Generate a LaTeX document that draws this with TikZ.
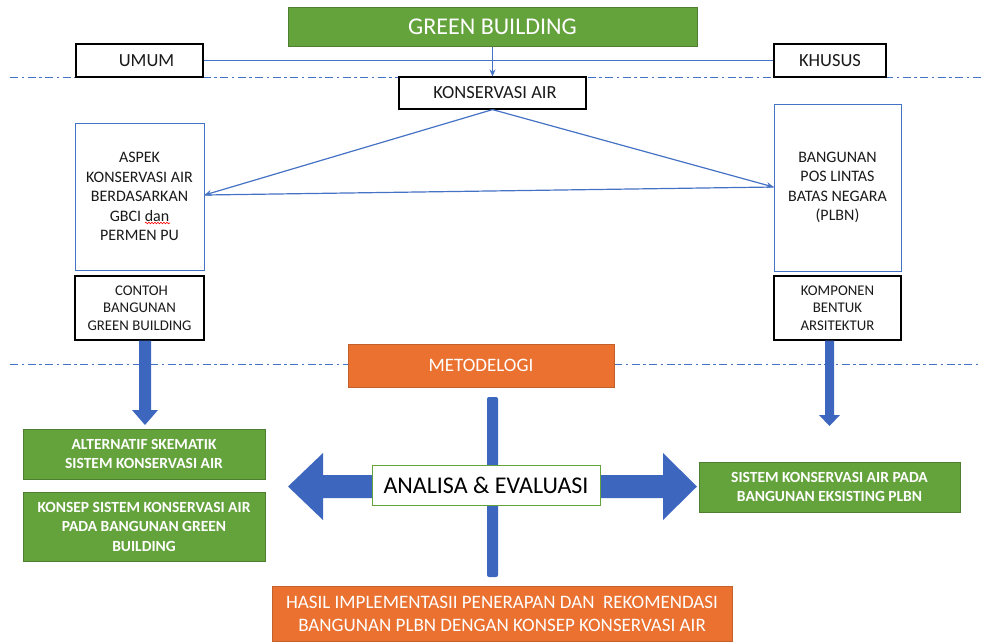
\documentclass[tikz,border=0pt]{standalone}
\usepackage{fontspec}
\setmainfont{Carlito}
\usetikzlibrary{arrows.meta,decorations.pathmorphing}
\definecolor{gfill}{HTML}{64A23C}
\definecolor{gline}{HTML}{4F7E30}
\definecolor{ofill}{HTML}{EA7130}
\definecolor{oline}{HTML}{C1602A}
\definecolor{lblue}{HTML}{4472C4}
\definecolor{ablue}{HTML}{3D67BE}
\definecolor{txt}{HTML}{1A1A1A}
\tikzset{
  wbox/.style={draw=black, line width=1.2pt, fill=white, text=txt, align=center, inner sep=0pt},
  bbox/.style={draw=lblue, line width=1pt, fill=white, text=txt, align=center, inner sep=0pt},
  gbox/.style={draw=gline, line width=1pt, fill=gfill, text=white, align=center, inner sep=0pt},
  obox/.style={draw=oline, line width=1pt, fill=ofill, text=white, align=center, inner sep=0pt},
  conn/.style={draw=lblue, line width=1.2pt},
  dline/.style={draw=lblue, line width=0.9pt, dash pattern=on 8pt off 3.5pt on 2.5pt off 3.5pt},
  fat/.style={fill=ablue, draw=none},
  tip/.style={-{Stealth[length=7pt,width=6pt]}},
  fz/.style 2 args={font=\fontsize{#1}{#2}\selectfont},
  fzb/.style 2 args={font=\fontsize{#1}{#2}\selectfont\bfseries},
}
\begin{document}
\begin{tikzpicture}[x=1pt,y=-1pt]
\useasboundingbox (0,0) rectangle (981,641);
% dash-dot separators
\draw[dline] (10,77) -- (981,77);
\draw[dline] (10,364) -- (348,364);
\draw[dline] (614,364) -- (981,364);
% top nodes
\node[gbox, fz={24}{28}, minimum width=409pt, minimum height=39pt] (gb) at (492.5,26.5) {GREEN BUILDING};
\node[wbox, fz={18.5}{22}, minimum width=127pt, minimum height=33pt] (umum) at (139.5,60.5) {\hspace{14pt}UMUM};
\node[wbox, fz={18.5}{22}, minimum width=112pt, minimum height=33pt] (khusus) at (830,60.5) {KHUSUS};
\node[wbox, fz={18.5}{22}, minimum width=187pt, minimum height=32pt] (ka) at (492.5,93) {\hspace{5pt}KONSERVASI AIR};
\node[bbox, fz={16}{19.5}, minimum width=129pt, minimum height=147pt] (aspek) at (139.5,196.5) {ASPEK\\KONSERVASI AIR\\BERDASARKAN\\GBCI dan\\PERMEN PU};
\node[bbox, fz={16}{19.5}, minimum width=127pt, minimum height=167pt] (plbn) at (837.5,187.5) {BANGUNAN\\POS LINTAS\\BATAS NEGARA\\(PLBN)};
\node[wbox, fz={14.8}{17.5}, minimum width=129pt, minimum height=64pt] (contoh) at (139.5,308) {\hspace{4pt}CONTOH\\BANGUNAN\\GREEN BUILDING};
\node[wbox, fz={14.8}{17.5}, minimum width=127pt, minimum height=64pt] (komp) at (837.5,308) {KOMPONEN\\BENTUK\\ARSITEKTUR};
% spell-check squiggle under "dan"
\draw[red, line width=0.6pt, decorate, decoration={snake, amplitude=0.8pt, segment length=3pt}] (145,223) -- (170,223);
% connectors top
\draw[conn] (umum.east) -- (khusus.west);
\draw[conn, tip] (gb.south) -- (ka.north);
\coordinate (aR) at (aspek.east |- 0,195);
\coordinate (pL) at (plbn.west |- 0,187);
\draw[conn, tip] (ka.south) -- (aR);
\draw[conn, tip] (ka.south) -- (pL);
\draw[conn] (aR) -- (pL);
% lower nodes
\node[obox, fz={19}{23}, minimum width=266pt, minimum height=43pt] (met) at (481,365.5) {METODELOGI};
\node[gbox, fzb={15.5}{19}, minimum width=242pt, minimum height=50pt] (alt) at (144,454) {ALTERNATIF SKEMATIK\\SISTEM KONSERVASI AIR};
\node[gbox, fzb={15.5}{19.5}, minimum width=242pt, minimum height=69pt] (konsep) at (144,526.5) {KONSEP SISTEM KONSERVASI AIR\\PADA BANGUNAN GREEN\\BUILDING};
\node[gbox, fzb={15.5}{19}, minimum width=261pt, minimum height=50pt] (sis) at (829.5,487) {SISTEM KONSERVASI AIR PADA\\BANGUNAN EKSISTING PLBN};
\node[obox, fz={19}{23}, minimum width=460pt, minimum height=55pt] (hasil) at (502,613.5) {HASIL IMPLEMENTASII PENERAPAN DAN \ REKOMENDASI\\BANGUNAN PLBN DENGAN KONSEP KONSERVASI AIR};
% fat arrows down
\fill[fat] (contoh.south -| 139,0) -- (139,410) -- (132,410) -- (145,425) -- (158,410) -- (151,410) -- (contoh.south -| 151,0) -- cycle;
\fill[fat] (komp.south -| 825,0) -- (825,415) -- (819,415) -- (829.5,426) -- (840,415) -- (834,415) -- (komp.south -| 834,0) -- cycle;
% vertical bar
\fill[fat, rounded corners=2pt] (487,397) rectangle (498,577);
% big double arrow
\fill[fat] (400,475) -- (323,475) -- (323,453) -- (288,486.5) -- (323,520) -- (323,498) -- (400,498) -- cycle;
\fill[fat] (580,475) -- (663,475) -- (663,453) -- (697,486.5) -- (663,520) -- (663,498) -- (580,498) -- cycle;
\node[draw=gfill, line width=1pt, fill=white, text=black, fz={24}{28}, minimum width=228pt, minimum height=40pt, inner sep=0pt] (ana) at (486,485) {ANALISA \& EVALUASI};
\end{tikzpicture}
\end{document}
